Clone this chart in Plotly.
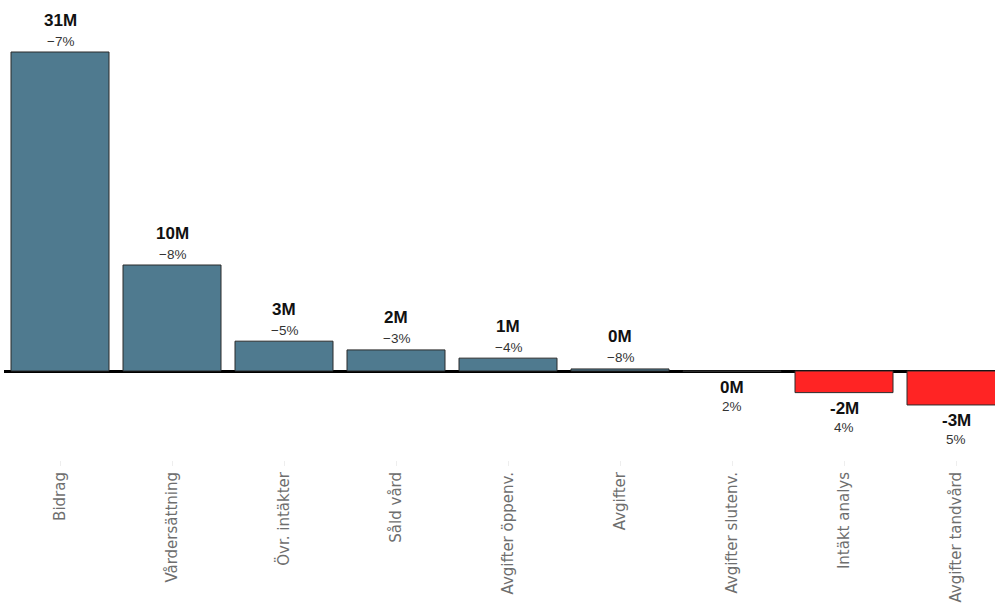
import plotly.graph_objects as go

# Revenue categories and their change (MSEK) plus percentage change
categories = ["Bidrag", "Vårdersättning", "Övr. intäkter", "Såld vård",
              "Avgifter öppenv.", "Avgifter", "Avgifter slutenv.",
              "Intäkt analys", "Avgifter tandvård"]
values = [31.0, 10.3, 2.9, 2.05, 1.25, 0.2, -0.05, -2.1, -3.3]
pct_change = [-7, -8, -5, -3, -4, -8, 2, 4, 5]

BLUE = "#4f7a8f"
RED = "#ff2424"

colors = [BLUE if v >= 0 else RED for v in values]

fig = go.Figure()
fig.add_trace(go.Bar(
    x=list(range(len(categories))),
    y=values,
    marker=dict(color=colors, line=dict(color="#2b2b2b", width=1)),
    hoverinfo="skip",
))


def fmt_pct(p):
    return f"\u2212{abs(p)}%" if p < 0 else f"{p}%"


annotations = []
for i, (v, p) in enumerate(zip(values, pct_change)):
    up = v > 0
    annotations.append(dict(
        x=i, y=v, xref="x", yref="y", text=f"<b>{int(round(v))}M</b>",
        showarrow=False, yanchor="middle", yshift=32 if up else -16,
        font=dict(family="Liberation Sans, Arial, sans-serif", size=17, color="#111111"),
    ))
    annotations.append(dict(
        x=i, y=v, xref="x", yref="y", text=fmt_pct(p),
        showarrow=False, yanchor="middle", yshift=11 if up else -35,
        font=dict(family="Liberation Sans, Arial, sans-serif", size=13.5, color="#333333"),
    ))

# pixel scale: ~10.29 px per unit, zero line placed at y=371
top_px, bottom_px, zero_px, ppu = 8, 460, 371, 10.29
y_max = (zero_px - top_px) / ppu
y_min = -(bottom_px - zero_px) / ppu

band_px = 112
left_px = 4
x_max = -0.5 + (995 - left_px) / band_px

fig.update_layout(
    width=995, height=603,
    margin=dict(l=left_px, r=0, t=top_px, b=603 - bottom_px),
    paper_bgcolor="white", plot_bgcolor="white",
    bargap=0.125,
    showlegend=False,
    annotations=annotations,
    xaxis=dict(
        range=[-0.5, x_max],
        tickmode="array",
        tickvals=list(range(len(categories))),
        ticktext=categories,
        tickangle=-90,
        tickson="boundaries",
        ticks="outside", ticklen=5, tickcolor="#eeeeee",
        tickfont=dict(family="DejaVu Sans, sans-serif", size=15, color="#6e6e6e"),
        showgrid=False, zeroline=False, showline=False,
        fixedrange=True,
    ),
    yaxis=dict(
        range=[y_min, y_max],
        showticklabels=False, showgrid=False,
        zeroline=True, zerolinecolor="#000000", zerolinewidth=3,
        layer="above traces",
        fixedrange=True,
    ),
)

fig.write_html("out.html")
